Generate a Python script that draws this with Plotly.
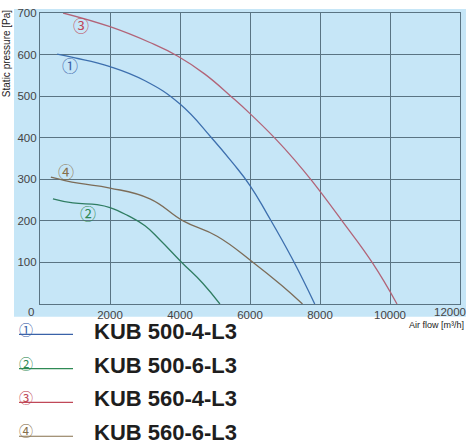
import plotly.graph_objects as go

# ---- data ----
names = ["KUB 500-4-L3", "KUB 500-6-L3", "KUB 560-4-L3", "KUB 560-6-L3"]
marks = ["①", "②", "③", "④"]

x1 = [490, 1000, 2000, 3000, 4000, 4900, 5500, 6000, 6500, 7200, 7850]
y1 = [601, 592, 571, 537, 481, 400, 340, 285, 215, 110, 0]

x2 = [370, 940, 1630, 2000, 2500, 3000, 3430, 4050, 4650, 5140]
y2 = [253, 243, 239, 232, 213, 188, 154, 100, 50, 0]

x3 = [660, 2000, 3140, 3940, 4710, 5490, 6000, 6710, 7290, 7770, 8630, 9490, 10200]
y3 = [700, 667, 629, 596, 553, 497, 458, 399, 345, 296, 200, 100, 0]

x4 = [310, 660, 1140, 2000, 3140, 4090, 5060, 6090, 6900, 7500]
y4 = [305, 298, 290, 279, 253, 200, 163, 100, 45, 0]

x_ticks = [2000, 4000, 6000, 8000, 10000]
y_ticks = [100, 200, 300, 400, 500, 600, 700]

# curve-label positions (data units) for circled numbers inside the plot
label_x = [870, 1370, 1160, 740]
label_y = [574, 219, 672, 321]

line_colors = ["#3d6fae", "#2f7d62", "#b26478", "#7c6c58"]
mark_colors = ["#3a62a8", "#2f8a55", "#c04858", "#86704c"]

xs = [x1, x2, x3, x4]
ys = [y1, y2, y3, y4]

W, H = 470, 444
L, R, T, B = 40, 10, 7, 140
pw, ph = W - L - R, H - T - B


def px(xp):
    return (xp - L) / pw


def py(yp):
    return (H - B - yp) / ph


fig = go.Figure()
for i in range(4):
    fig.add_trace(go.Scatter(
        x=xs[i], y=ys[i], mode="lines", name=names[i],
        line=dict(color=line_colors[i], width=1.3, shape="spline", smoothing=1.3),
        showlegend=False, hoverinfo="skip"))

grid = "#5a7483"
bg = "#c6e6f7"

shapes = [dict(type="rect", xref="paper", yref="paper",
               x0=px(14), x1=px(466), y0=py(317), y1=py(3),
               fillcolor=bg, line=dict(width=0), layer="below")]

annotations = []
for i in range(4):
    annotations.append(dict(x=label_x[i], y=label_y[i], xref="x", yref="y",
                            text=marks[i], showarrow=False, xanchor="center", yanchor="middle",
                            font=dict(family="Noto Sans CJK JP", size=16, color=mark_colors[i])))


def pann(x, y, text, size, color, xanchor="center", yanchor="middle", **kw):
    annotations.append(dict(x=px(x), y=py(y), xref="paper", yref="paper", text=text,
                            showarrow=False, xanchor=xanchor, yanchor=yanchor,
                            font=dict(family=kw.pop("family", "Liberation Sans"),
                                      size=size, color=color), **kw))


# origin and last x tick labels
pann(31, 312, "0", 11.5, "#444")
pann(450, 312, "12000", 11.5, "#444")
# axis titles
pann(6, 49, "Static pressure [Pa]", 10, "#222", textangle=-90)
pann(466, 325, "Air flow [m³/h]", 9, "#222", xanchor="right")

# custom legend
row_text = [332.5, 366.5, 400, 435]
row_line = [335, 370, 404.5, 439]
row_mark = [330, 364, 398.5, 433]
for i in range(4):
    pann(92, row_text[i], "<b>" + names[i] + "</b>", 22, "#1e1e1e", xanchor="left")
    pann(25.5, row_mark[i], marks[i], 14, mark_colors[i], family="Noto Sans CJK JP")
    shapes.append(dict(type="line", xref="paper", yref="paper",
                       x0=px(19), x1=px(73), y0=py(row_line[i]), y1=py(row_line[i]),
                       line=dict(color=mark_colors[i], width=1.2)))

tick_font = dict(family="Liberation Sans", size=11.5, color="#444")
fig.update_layout(
    width=W, height=H, autosize=False,
    margin=dict(l=L, r=R, t=T, b=B, pad=0),
    paper_bgcolor="white", plot_bgcolor=bg,
    shapes=shapes, annotations=annotations,
    xaxis=dict(range=[0, 12000], tickvals=x_ticks, tickformat="d", showgrid=True,
               gridcolor=grid, gridwidth=1.2, showline=True, mirror=True, linecolor=grid,
               linewidth=1.2, zeroline=False, ticks="", tickfont=tick_font),
    yaxis=dict(range=[0, 700], tickvals=y_ticks, tickformat="d", showgrid=True,
               gridcolor=grid, gridwidth=1.2, showline=True, mirror=True, linecolor=grid,
               linewidth=1.2, zeroline=False, ticks="", tickfont=tick_font),
)

fig.write_html("out.html", config={"displayModeBar": False},
               post_script="document.body.style.margin='0';")
